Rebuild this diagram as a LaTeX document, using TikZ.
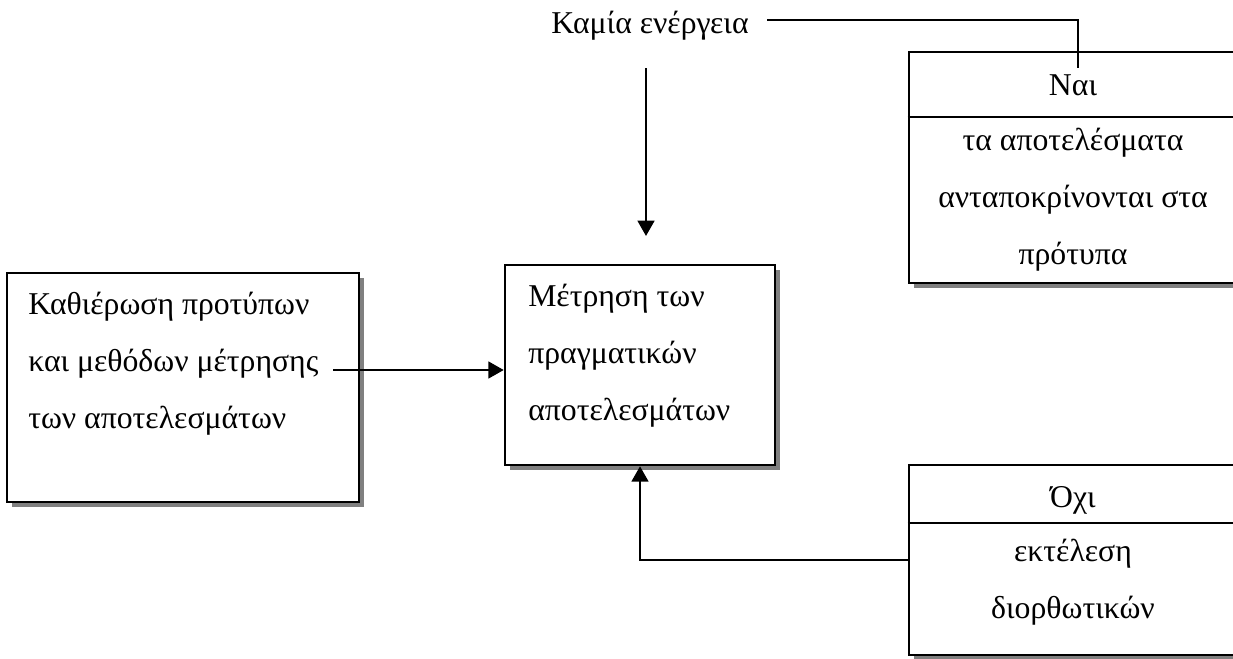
\documentclass[tikz,border=0pt]{standalone}
\usepackage{fontspec}
\setmainfont{Liberation Serif}
\usetikzlibrary{arrows.meta,shadows}
\begin{document}
\begin{tikzpicture}[x=0.75pt,y=-0.75pt,
  box/.style={draw=black,line width=1.9pt,fill=white,rectangle,inner sep=0pt,
    drop shadow={shadow xshift=3.8pt,shadow yshift=-3.8pt,fill=black!50,opacity=1}},
  txt/.style={font=\fontsize{23.8}{42.4}\selectfont,inner sep=0pt},
  conn/.style={line width=1.9pt},
  arr/.style={conn,-{Triangle[length=11.5pt,width=12.5pt]}}]
\useasboundingbox (0,0) rectangle (1233,658);
\clip (0,0) rectangle (1233,658);

% boxes
\node[box,minimum width=264pt,minimum height=171.75pt] (std) at (183,387.5) {};
\node[box,minimum width=202.5pt,minimum height=150pt] (meas) at (640,365) {};
\node[box,minimum width=246pt,minimum height=173.25pt] (yes) at (1073,167.5) {};
\node[box,minimum width=246pt,minimum height=142.5pt] (no) at (1073,560) {};

% header dividers of the decision boxes
\draw[conn] (yes.west |- 0,117) -- (yes.east |- 0,117);
\draw[conn] (no.west |- 0,523) -- (no.east |- 0,523);

% texts (base anchor of a multi-line node = baseline of its last line)
\node[txt,anchor=base west,align=left] (stdtxt) at (28,428)
  {Καθιέρωση προτύπων\\και μεθόδων μέτρησης\\των αποτελεσμάτων};
\node[txt,anchor=base west,align=left] (meastxt) at (528,420)
  {Μέτρηση των\\πραγματικών\\αποτελεσμάτων};
\node[txt,anchor=base] (yeshead) at (1073,95) {Ναι};
\node[txt,anchor=base,align=center] (yestxt) at (1073,264)
  {τα αποτελέσματα\\ανταποκρίνονται στα\\πρότυπα};
\node[txt,anchor=base] (nohead) at (1073,507) {Όχι};
\node[txt,anchor=base,align=center] (notxt) at (1073,618)
  {εκτέλεση\\διορθωτικών};
\node[txt,anchor=base] (none) at (650,33) {Καμία ενέργεια};

% connectors
\coordinate (nonestart) at (767,20);
\coordinate (yesin) at (1078,68);
\draw[conn] (nonestart) -| (yesin);

\coordinate (downtop) at (646,68);
\coordinate (downtip) at (646,236);
\draw[arr] (downtop) -- (downtip);

\coordinate (stdout) at (333,370);
\draw[arr] (stdout) -- (stdout -| meas.west);

\draw[arr] (no.west) -| (meas.south);
\end{tikzpicture}
\end{document}
